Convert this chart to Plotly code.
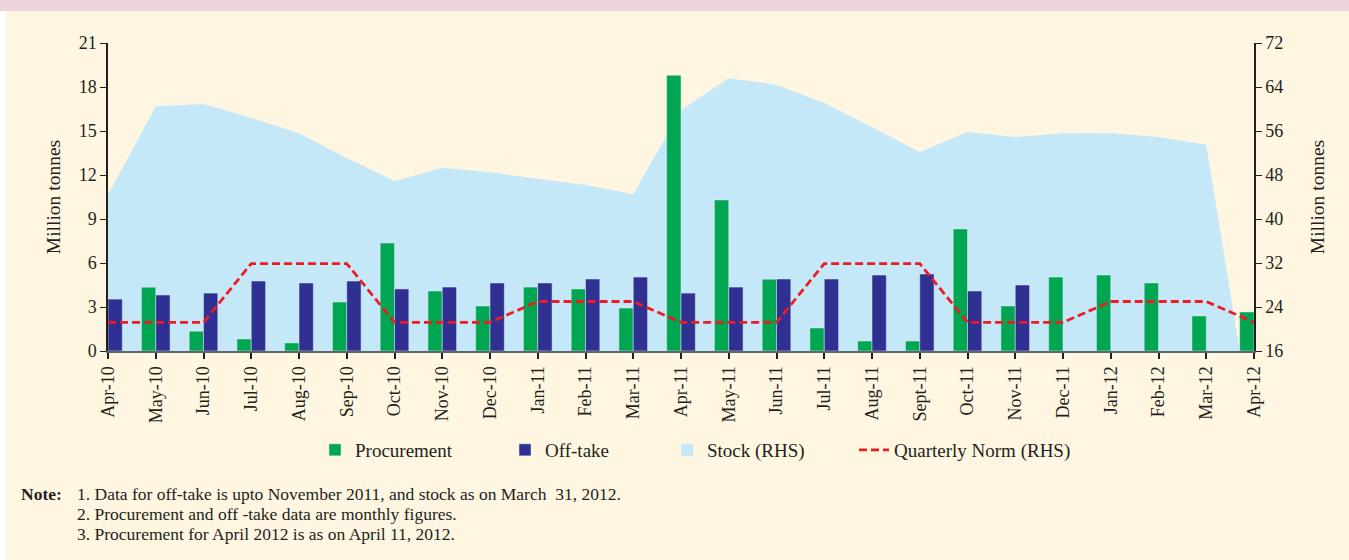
import plotly.graph_objects as go

months = ["Apr-10", "May-10", "Jun-10", "Jul-10", "Aug-10", "Sep-10", "Oct-10", "Nov-10",
          "Dec-10", "Jan-11", "Feb-11", "Mar-11", "Apr-11", "May-11", "Jun-11", "Jul-11",
          "Aug-11", "Sept-11", "Oct-11", "Nov-11", "Dec-11", "Jan-12", "Feb-12", "Mar-12", "Apr-12"]

# million tonnes, LHS
procurement = [None, 4.35, 1.35, 0.82, 0.55, 3.34, 7.36, 4.09, 3.07, 4.36, 4.23, 2.93,
               18.8, 10.3, 4.9, 1.57, 0.68, 0.68, 8.32, 3.07, 5.04, 5.18, 4.64, 2.39, 2.66]
offtake = [3.54, 3.82, 3.95, 4.77, 4.64, 4.77, 4.23, 4.36, 4.64, 4.64, 4.91, 5.04,
           3.95, 4.36, 4.91, 4.91, 5.18, 5.25, 4.09, 4.5, None, None, None, None, None]

# million tonnes, RHS
stock = [44.4, 60.5, 60.9, 58.4, 55.6, 51.1, 46.9, 49.3, 48.5, 47.3, 46.2, 44.5,
         59.8, 65.6, 64.4, 61.1, 56.7, 52.2, 55.8, 54.9, 55.6, 55.6, 54.9, 53.5, 0]
norm = [21.2, 21.2, 21.2, 31.9, 31.9, 31.9, 21.2, 21.2, 21.2, 25.0, 25.0, 25.0,
        21.2, 21.2, 21.2, 31.9, 31.9, 31.9, 21.2, 21.2, 21.2, 25.0, 25.0, 25.0, 21.2]

notes = ["1. Data for off-take is upto November 2011, and stock as on March  31, 2012.",
         "2. Procurement and off -take data are monthly figures.",
         "3. Procurement for April 2012 is as on April 11, 2012."]

FONT = "Liberation Serif"
INK = "#231f20"
BG = "#fff6e1"
STOCK_BLUE = "#c5e8f8"

fig = go.Figure()

fig.add_trace(go.Scatter(x=months, y=stock, name="Stock (RHS)", mode="none",
                         fill="tozeroy", fillcolor=STOCK_BLUE, yaxis="y", showlegend=False))
# square swatch for the stock entry, like the printed legend
fig.add_trace(go.Scatter(x=[None], y=[None], name="Stock (RHS)", mode="markers",
                         marker=dict(symbol="square", size=12, color=STOCK_BLUE),
                         yaxis="y", legend="legend3"))
fig.add_trace(go.Bar(x=months, y=procurement, name="Procurement", marker_color="#00a651",
                     yaxis="y2", legend="legend", showlegend=True))
fig.add_trace(go.Bar(x=months, y=offtake, name="Off-take", marker_color="#2e3192",
                     yaxis="y2", legend="legend2"))
fig.add_trace(go.Scatter(x=months, y=norm, name="Quarterly Norm (RHS)", mode="lines",
                         line=dict(color="#ed1c24", width=2.8, dash="8px,4px"),
                         yaxis="y3", legend="legend4"))

leg = dict(orientation="h", xref="container", yref="container", y=1 - 450 / 560,
           yanchor="middle", bgcolor="rgba(0,0,0,0)", font=dict(family=FONT, size=19, color=INK))

fig.update_layout(
    width=1349, height=560,
    paper_bgcolor=BG, plot_bgcolor="rgba(0,0,0,0)",
    margin=dict(l=108, r=95, t=43, b=209, autoexpand=False),
    barmode="group", bargap=0.4, bargroupgap=0,
    font=dict(family=FONT, size=18, color=INK),
    showlegend=True,
    legend=dict(leg, x=315 / 1349),
    legend2=dict(leg, x=505 / 1349),
    legend3=dict(leg, x=667 / 1349),
    legend4=dict(leg, x=854 / 1349),
    xaxis=dict(type="category", categoryorder="array", categoryarray=months,
               range=[0, 24], tickangle=-90, ticks="outside", ticklen=6, tickwidth=1.5,
               tickcolor=INK, showline=True, linecolor="#5d6770", linewidth=2,
               showgrid=False, zeroline=False, tickfont=dict(size=18), automargin=False),
    yaxis=dict(side="right", range=[16, 72], tickvals=list(range(16, 73, 8)),
               ticks="outside", ticklen=6, tickcolor=INK, showline=True, linecolor=INK,
               linewidth=1.5, showgrid=False, zeroline=False, anchor="x", automargin=False,
               title=dict(text="Million tonnes", standoff=28, font=dict(size=19.5))),
    yaxis2=dict(overlaying="y", side="left", range=[0, 21], tickvals=list(range(0, 22, 3)),
                ticks="outside", ticklen=6, tickcolor=INK, showline=True, linecolor=INK,
                linewidth=1.5, showgrid=False, zeroline=False, automargin=False,
                title=dict(text="Million tonnes", standoff=13, font=dict(size=19.5))),
    yaxis3=dict(overlaying="y", range=[16, 72], visible=False),
)

# pink band at the top and white strip at the left edge
fig.add_shape(type="rect", xref="paper", yref="paper", x0=-108 / 1146, x1=1 + 95 / 1146,
              y0=1 + 32 / 308, y1=1 + 43 / 308, fillcolor="#ecd5dc", line_width=0, layer="below")
fig.add_shape(type="rect", xref="paper", yref="paper", x0=-108 / 1146, x1=-102 / 1146,
              y0=-209 / 308, y1=1 + 32 / 308, fillcolor="#ffffff", line_width=0, layer="below")

fig.add_annotation(text="<b>Note:</b>", xref="paper", yref="paper", x=(19 - 108) / 1146,
                   y=(351 - 494) / 308, xanchor="left", yanchor="middle", showarrow=False,
                   font=dict(size=17.5))
for i, t in enumerate(notes):
    fig.add_annotation(text=t, xref="paper", yref="paper", x=(75 - 108) / 1146,
                       y=(351 - 494 - 20 * i) / 308, xanchor="left", yanchor="middle",
                       showarrow=False, font=dict(size=17.5))

# drop the browser's default page margin so the figure sits at the window corner
fig.write_html("out.html", config={"displayModeBar": False},
               post_script="document.body.style.margin='0';")
